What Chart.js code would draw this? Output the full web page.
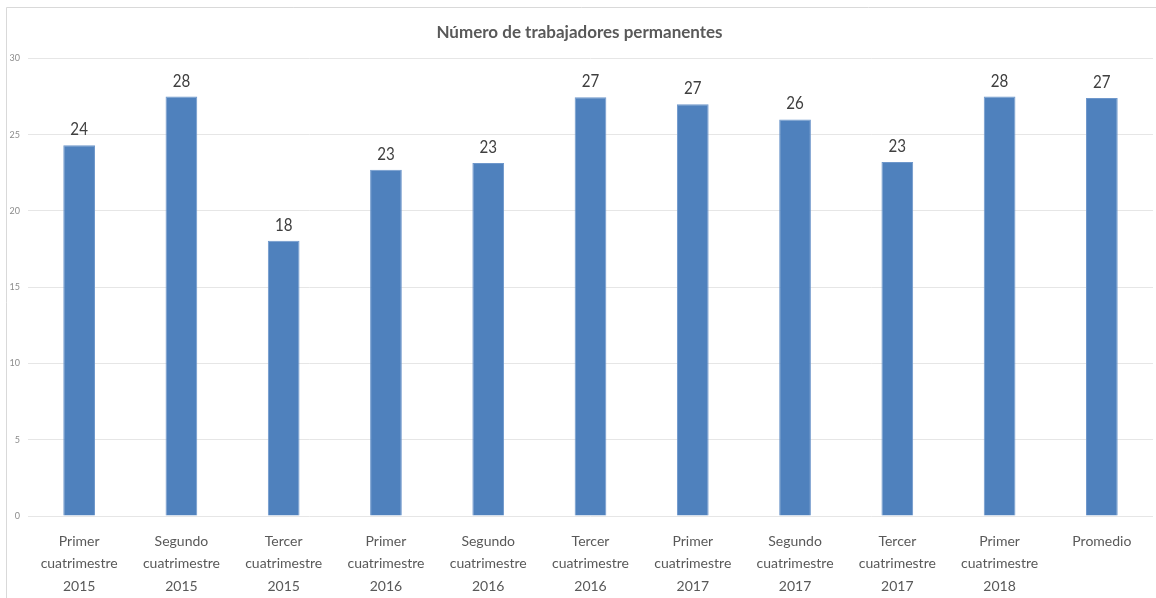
<!DOCTYPE html>
<html>
<head>
<meta charset="utf-8">
<script src="https://cdn.jsdelivr.net/npm/chart.js@4"></script>
<style>
html,body{margin:0;padding:0;background:#fff;}
#wrap{width:1156px;height:598px;position:relative;}
</style>
</head>
<body>
<div id="wrap"><canvas id="c" width="1156" height="598"></canvas></div>
<script>
const categories = [
  ["Primer","cuatrimestre","2015"],
  ["Segundo","cuatrimestre","2015"],
  ["Tercer","cuatrimestre","2015"],
  ["Primer","cuatrimestre","2016"],
  ["Segundo","cuatrimestre","2016"],
  ["Tercer","cuatrimestre","2016"],
  ["Primer","cuatrimestre","2017"],
  ["Segundo","cuatrimestre","2017"],
  ["Tercer","cuatrimestre","2017"],
  ["Primer","cuatrimestre","2018"],
  ["Promedio"]
];
const trabajadores = [24.3, 27.5, 18.05, 22.7, 23.15, 27.45, 27.0, 26.0, 23.2, 27.5, 27.4];
const valueLabels = ["24","28","18","23","23","27","27","26","23","28","27"];
const yTicks = [0, 5, 10, 15, 20, 25, 30];

const FONT = "Lato, 'Liberation Sans', sans-serif";

const frame = {
  id: 'frame',
  beforeDraw(chart) {
    const ctx = chart.ctx;
    ctx.save();
    ctx.fillStyle = '#fff';
    ctx.fillRect(0, 0, chart.width, chart.height);
    ctx.strokeStyle = '#d9d9d9';
    ctx.lineWidth = 1;
    ctx.beginPath();
    ctx.moveTo(6.5, chart.height);
    ctx.lineTo(6.5, 7.5);
    ctx.lineTo(chart.width, 7.5);
    ctx.stroke();
    ctx.restore();
  }
};

const labelsPlugin = {
  id: 'valueLabels',
  afterDatasetsDraw(chart) {
    const ctx = chart.ctx;
    const meta = chart.getDatasetMeta(0);
    meta.data.forEach((bar, i) => {
      ctx.save();
      ctx.font = "18px " + FONT;
      ctx.fillStyle = '#404040';
      ctx.textAlign = 'center';
      ctx.textBaseline = 'alphabetic';
      ctx.translate(bar.x, bar.y - 10);
      ctx.scale(0.84, 1);
      ctx.fillText(valueLabels[i], 0, 0);
      ctx.restore();
    });
  }
};

new Chart(document.getElementById('c'), {
  type: 'bar',
  data: {
    labels: categories,
    datasets: [{
      data: trabajadores,
      backgroundColor: '#4F81BD',
      borderColor: '#6E97CB',
      borderWidth: 1,
      categoryPercentage: 1.0,
      barPercentage: 0.31
    }]
  },
  options: {
    responsive: false,
    animation: false,
    layout: { padding: { left: 6, right: 3, top: 0, bottom: 0 } },
    plugins: {
      legend: { display: false },
      tooltip: { enabled: false },
      title: {
        display: true,
        text: 'Número de trabajadores permanentes',
        color: '#595959',
        font: { family: FONT, size: 17, weight: 'bold' },
        padding: { top: 22, bottom: 16 }
      }
    },
    scales: {
      x: {
        grid: { display: false },
        border: { display: false },
        ticks: {
          color: '#595959',
          font: { family: FONT, size: 14, lineHeight: 1.6 },
          maxRotation: 0,
          autoSkip: false,
          padding: 6
        },
        afterFit(scale) { scale.height = 82; }
      },
      y: {
        min: 0,
        max: 30,
        afterBuildTicks(scale) { scale.ticks = yTicks.map(v => ({ value: v })); },
        grid: { color: '#e6e6e6', lineWidth: 1, drawTicks: false },
        border: { display: false },
        ticks: {
          color: '#8c8c8c',
          font: { family: FONT, size: 9 },
          padding: 8
        },
        afterFit(scale) { scale.width = 22; }
      }
    }
  },
  plugins: [frame, labelsPlugin]
});
</script>
</body>
</html>
